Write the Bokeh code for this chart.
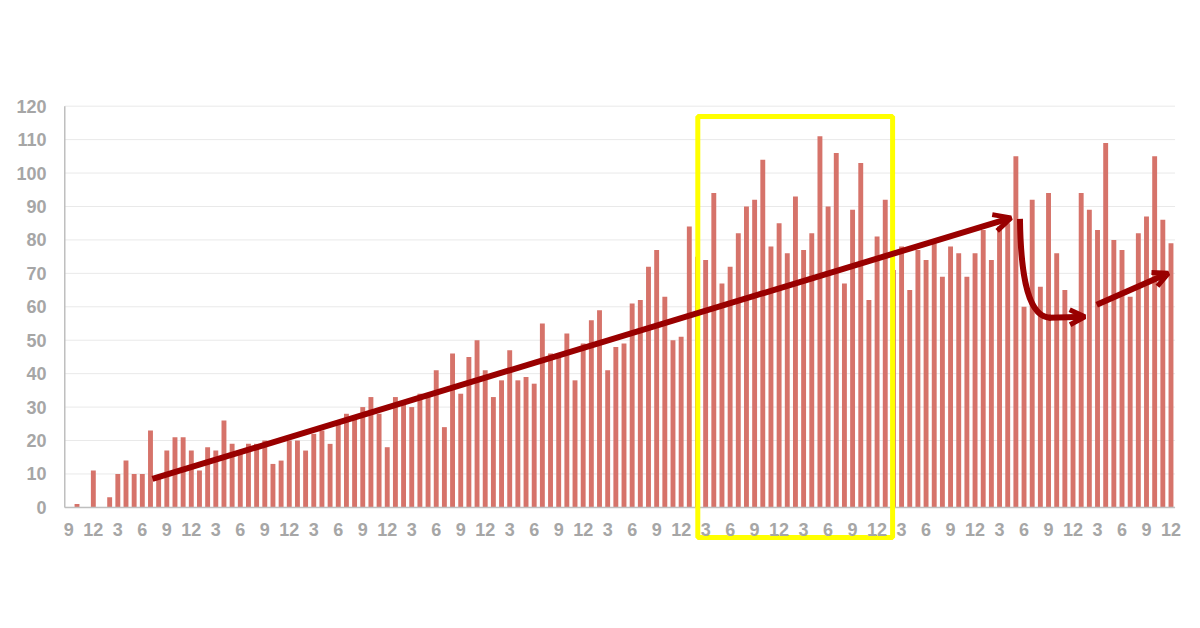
from bokeh.plotting import figure
from bokeh.models import Range1d, LinearAxis, FixedTicker, Arrow, OpenHead
from bokeh.embed import file_html
from bokeh.resources import INLINE

# ---------------- data ----------------
values = [0, 1, 0, 11, 0, 3, 10, 14, 10, 10,
          23, 9, 17, 21, 21, 17, 11, 18, 17, 26,
          19, 16, 19, 19, 20, 13, 14, 20, 20, 17,
          22, 23, 19, 25, 28, 27, 30, 33, 28, 18,
          33, 31, 30, 34, 34, 41, 24, 46, 34, 45,
          50, 41, 33, 38, 47, 38, 39, 37, 55, 46,
          45, 52, 38, 49, 56, 59, 41, 48, 49, 61,
          62, 72, 77, 63, 50, 51, 84, 75, 74, 94,
          67, 72, 82, 90, 92, 104, 78, 85, 76, 93,
          77, 82, 111, 90, 106, 67, 89, 103, 62, 81,
          92, 71, 78, 65, 77, 74, 79, 69, 78, 76,
          69, 76, 83, 74, 84, 85, 105, 60, 92, 66,
          94, 76, 65, 55, 94, 89, 83, 109, 80, 77,
          63, 82, 87, 105, 86, 79]
categories = list(range(len(values)))

tick_labels = ["9", "12", "3", "6", "9", "12", "3", "6", "9", "12", "3", "6",
               "9", "12", "3", "6", "9", "12", "3", "6", "9", "12", "3", "6",
               "9", "12", "3", "6", "9", "12", "3", "6", "9", "12", "3", "6",
               "9", "12", "3", "6", "9", "12", "3", "6", "9", "12"]
tick_positions = categories[::3]
y_ticks = [0, 10, 20, 30, 40, 50, 60, 70, 80, 90, 100, 110, 120]

# annotation geometry (category index, value)
trend_start = (10.24, 8.5)
trend_end = (115.4, 86.6)
drop_curve = dict(x0=116.5, y0=86.3, cx0=116.6, cy0=68.0, cx1=117.6, cy1=56.7, x1=120.3, y1=56.7)
drop_arrow = ((120.0, 56.7), (124.45, 57.0))
rise_arrow = ((125.9, 60.6), (134.66, 70.0))
highlight_box = dict(left=77.04, right=100.9, bottom=-9.0, top=116.9)

BAR = "#d6736a"
DARK = "#990000"
GRAY = "#a6a6a6"
GRID = "#e9e9e9"
AXIS = "#bfbfbf"
FONT = "Liberation Sans"

x_lo, x_hi = categories[0] - 0.5, categories[-1] + 0.5

p = figure(width=1192, height=612, title=None,
           x_range=Range1d(-0.9, 136.9), y_range=Range1d(-10.5, 120.5),
           output_backend="svg", toolbar_location=None,
           x_axis_location=None, y_axis_location=None,
           min_border_left=61, min_border_right=6,
           min_border_top=104, min_border_bottom=70)
p.outline_line_color = None
p.background_fill_color = "white"
p.border_fill_color = "white"
for g in p.grid:
    g.visible = False

yaxis = LinearAxis(ticker=FixedTicker(ticks=y_ticks))
yaxis.axis_line_color = None
yaxis.major_tick_line_color = None
yaxis.minor_tick_line_color = None
yaxis.major_label_standoff = 9
yaxis.major_label_text_font = FONT
yaxis.major_label_text_font_style = "bold"
yaxis.major_label_text_font_size = "18px"
yaxis.major_label_text_color = GRAY
p.add_layout(yaxis, "left")

xaxis = LinearAxis(ticker=FixedTicker(ticks=tick_positions), fixed_location=0)
xaxis.major_label_overrides = {t: lab for t, lab in zip(tick_positions, tick_labels)}
xaxis.axis_line_color = None
xaxis.major_tick_line_color = None
xaxis.minor_tick_line_color = None
xaxis.major_label_standoff = 10
xaxis.major_label_text_font = FONT
xaxis.major_label_text_font_style = "bold"
xaxis.major_label_text_font_size = "18px"
xaxis.major_label_text_color = GRAY
p.add_layout(xaxis, "below")

# horizontal gridlines over the category span
p.segment(x0=[x_lo] * len(y_ticks), y0=y_ticks, x1=[x_hi] * len(y_ticks), y1=y_ticks,
          line_color=GRID, line_width=1)

p.vbar(x=categories, top=values, width=0.6, fill_color=BAR, line_color=None)

# axis lines
p.segment(x0=[x_lo], y0=[0], x1=[x_lo], y1=[y_ticks[-1]], line_color=AXIS, line_width=1.5)
p.segment(x0=[x_lo], y0=[0], x1=[x_hi], y1=[0], line_color=AXIS, line_width=1.5)

# yellow highlight box
p.quad(left=[highlight_box["left"]], right=[highlight_box["right"]],
       bottom=[highlight_box["bottom"]], top=[highlight_box["top"]],
       fill_color=None, line_color="#ffff00", line_width=5)

# trend arrow
p.add_layout(Arrow(end=OpenHead(size=17, line_width=5, line_color=DARK),
                   x_start=trend_start[0], y_start=trend_start[1],
                   x_end=trend_end[0], y_end=trend_end[1],
                   line_width=6, line_color=DARK))

# drop curve + arrow
p.bezier(x0=[drop_curve["x0"]], y0=[drop_curve["y0"]], x1=[drop_curve["x1"]], y1=[drop_curve["y1"]],
         cx0=[drop_curve["cx0"]], cy0=[drop_curve["cy0"]], cx1=[drop_curve["cx1"]], cy1=[drop_curve["cy1"]],
         line_color=DARK, line_width=6)
p.add_layout(Arrow(end=OpenHead(size=15, line_width=5, line_color=DARK),
                   x_start=drop_arrow[0][0], y_start=drop_arrow[0][1],
                   x_end=drop_arrow[1][0], y_end=drop_arrow[1][1],
                   line_width=6, line_color=DARK))

# rise arrow
p.add_layout(Arrow(end=OpenHead(size=15, line_width=5, line_color=DARK),
                   x_start=rise_arrow[0][0], y_start=rise_arrow[0][1],
                   x_end=rise_arrow[1][0], y_end=rise_arrow[1][1],
                   line_width=6, line_color=DARK))

open("out.html", "w").write(file_html(p, INLINE))
